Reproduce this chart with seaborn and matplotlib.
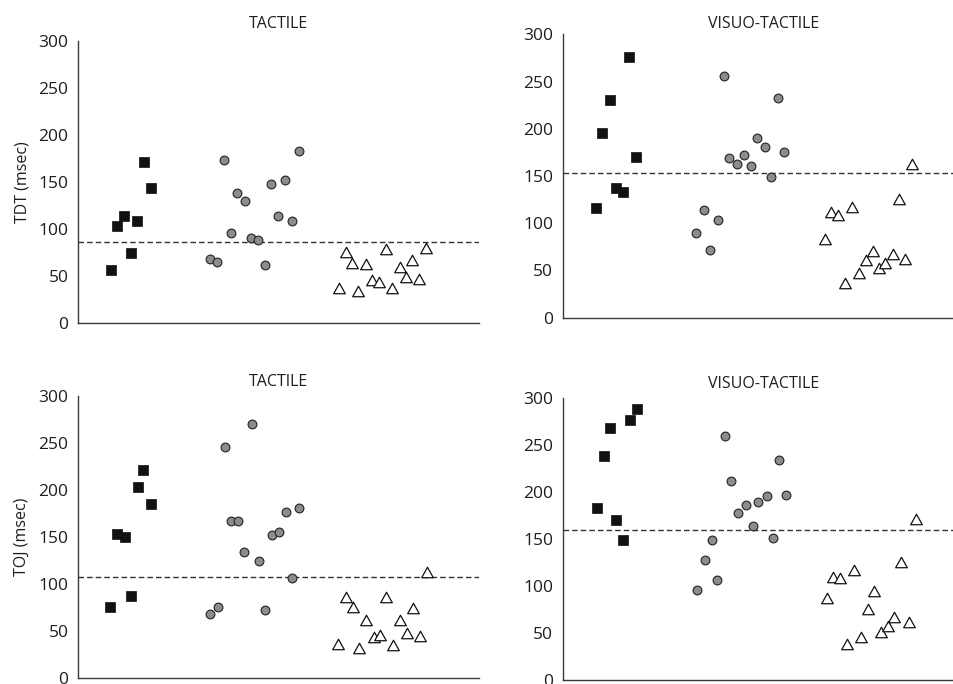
import pandas as pd
import seaborn as sns
import matplotlib.pyplot as plt
from matplotlib.path import Path

# three groups per panel: 7 squares, 14 circles, 14 triangles
grupos = ["A"] * 7 + ["B"] * 14 + ["C"] * 14

# horizontal position (percent of axis width) and value (msec)
tdt_tac_x = [8.1, 9.6, 11.4, 13.1, 14.7, 16.4, 18.1,
             33.0, 34.6, 36.4, 38.2, 39.7, 41.6, 43.1, 44.8, 46.7, 48.2, 49.9, 51.5, 53.3, 55.1,
             65.0, 66.8, 68.3, 69.7, 71.8, 73.3, 75.1, 76.8, 78.4, 80.2, 81.7, 83.4, 85.0, 86.9]
tdt_tac_y = [56, 103, 113, 74, 108, 171, 143,
             68, 65, 173, 95, 138, 129, 90, 88, 61, 148, 114, 152, 108, 183,
             37, 75, 64, 34, 62, 45, 43, 78, 37, 59, 49, 67, 46, 80]

tdt_vis_x = [8.2, 9.8, 11.8, 13.2, 15.0, 16.5, 18.3,
             33.3, 35.2, 36.8, 38.7, 40.2, 41.6, 43.4, 45.1, 47.0, 48.5, 50.4, 52.0, 53.6, 55.3,
             65.3, 67.0, 68.7, 70.4, 72.2, 73.9, 75.6, 77.3, 79.0, 80.3, 82.4, 84.0, 85.5, 87.2]
tdt_vis_y = [116, 196, 231, 137, 133, 276, 170,
             90, 114, 72, 103, 256, 169, 163, 172, 161, 190, 181, 149, 233, 175,
             83, 112, 109, 37, 117, 47, 61, 71, 53, 58, 67, 126, 62, 163]

toj_tac_x = [7.9, 9.6, 11.6, 13.1, 15.0, 16.2, 18.1,
             33.0, 34.9, 36.7, 38.2, 39.9, 41.4, 43.3, 45.1, 46.6, 48.3, 50.2, 51.8, 53.4, 55.0,
             64.9, 66.9, 68.6, 70.1, 71.8, 73.7, 75.4, 76.9, 78.6, 80.2, 82.0, 83.6, 85.4, 87.0]
toj_tac_y = [76, 153, 150, 87, 203, 221, 185,
             68, 76, 246, 167, 167, 134, 270, 125, 72, 152, 155, 177, 106, 181,
             36, 86, 76, 32, 62, 44, 46, 86, 35, 62, 48, 75, 45, 113]

toj_vis_x = [8.5, 10.2, 11.8, 13.4, 15.1, 16.8, 18.5,
             33.5, 35.6, 37.2, 38.6, 40.5, 42.1, 43.8, 45.6, 47.4, 48.7, 51.0, 52.5, 53.9, 55.8,
             65.8, 67.5, 69.2, 70.9, 72.7, 74.3, 76.1, 77.6, 79.3, 81.1, 82.7, 84.5, 86.3, 88.0]
toj_vis_y = [183, 238, 268, 170, 149, 276, 288,
             96, 128, 149, 106, 259, 211, 178, 186, 164, 189, 196, 151, 234, 197,
             87, 110, 108, 38, 117, 46, 75, 95, 51, 57, 67, 125, 62, 171]

# dashed reference lines
corte = {"tdt_tac": 86, "tdt_vis": 153, "toj_tac": 108, "toj_vis": 159}

sns.set_theme(style="white")
plt.rcParams["font.family"] = ["Open Sans", "DejaVu Sans"]

triangulo = Path([(0, 0.9), (-1, -0.9), (1, -0.9), (0, 0.9)],
                 [Path.MOVETO, Path.LINETO, Path.LINETO, Path.CLOSEPOLY])
estilos = {
    "A": dict(marker="s", s=42, color="#111111", edgecolor="#111111", linewidth=0.5),
    "B": dict(marker="o", s=40, color="#8c8c8c", edgecolor="#222222", linewidth=0.8),
    "C": dict(marker=triangulo, s=70, color="white", edgecolor="#111111", linewidth=0.9),
}


def painel(ax, x, y, linha, titulo, pad_titulo, ylabel=None):
    dados = pd.DataFrame({"x": x, "y": y, "grupo": grupos})
    for g, kw in estilos.items():
        sns.scatterplot(data=dados[dados["grupo"] == g], x="x", y="y",
                        ax=ax, zorder=3, legend=False, **kw)
    ax.axhline(linha, color="#333333", lw=1.0, ls=(0, (4, 2.2)), zorder=2)

    ax.set_xlim(0, 100)
    ax.set_ylim(0, 300)
    ax.set_xticks([])
    ax.set_yticks(range(0, 301, 50))
    ax.tick_params(axis="y", length=0, pad=6.8, labelsize=12.5, labelcolor="#1e1e1e")
    ax.set_xlabel("")
    ax.set_ylabel(ylabel if ylabel else "", fontsize=11.5, color="#1e1e1e", labelpad=6)
    ax.set_title(titulo, fontsize=11.5, color="#1e1e1e", pad=pad_titulo)

    for lado in ["top", "right"]:
        ax.spines[lado].set_visible(False)
    for lado in ["left", "bottom"]:
        ax.spines[lado].set_color("#3a3a3a")
        ax.spines[lado].set_linewidth(1.0)
    ax.grid(False)


fig = plt.figure(figsize=(9.54, 6.84), dpi=100)
# right column is cropped by the image edge, like the original
ax1 = fig.add_axes([0.0818, 0.5282, 0.4203, 0.4123])
ax2 = fig.add_axes([0.5898, 0.5355, 0.4203, 0.4143])
ax3 = fig.add_axes([0.0818, 0.0083, 0.4203, 0.4132])
ax4 = fig.add_axes([0.5898, 0.0058, 0.4203, 0.4127])

painel(ax1, tdt_tac_x, tdt_tac_y, corte["tdt_tac"], "TACTILE", 8.9, "TDT (msec)")
painel(ax2, tdt_vis_x, tdt_vis_y, corte["tdt_vis"], "VISUO-TACTILE", 4.3)
painel(ax3, toj_tac_x, toj_tac_y, corte["toj_tac"], "TACTILE", 7.2, "TOJ (msec)")
painel(ax4, toj_vis_x, toj_vis_y, corte["toj_vis"], "VISUO-TACTILE", 6.8)

fig.savefig("out.png", dpi=100)
plt.close(fig)
